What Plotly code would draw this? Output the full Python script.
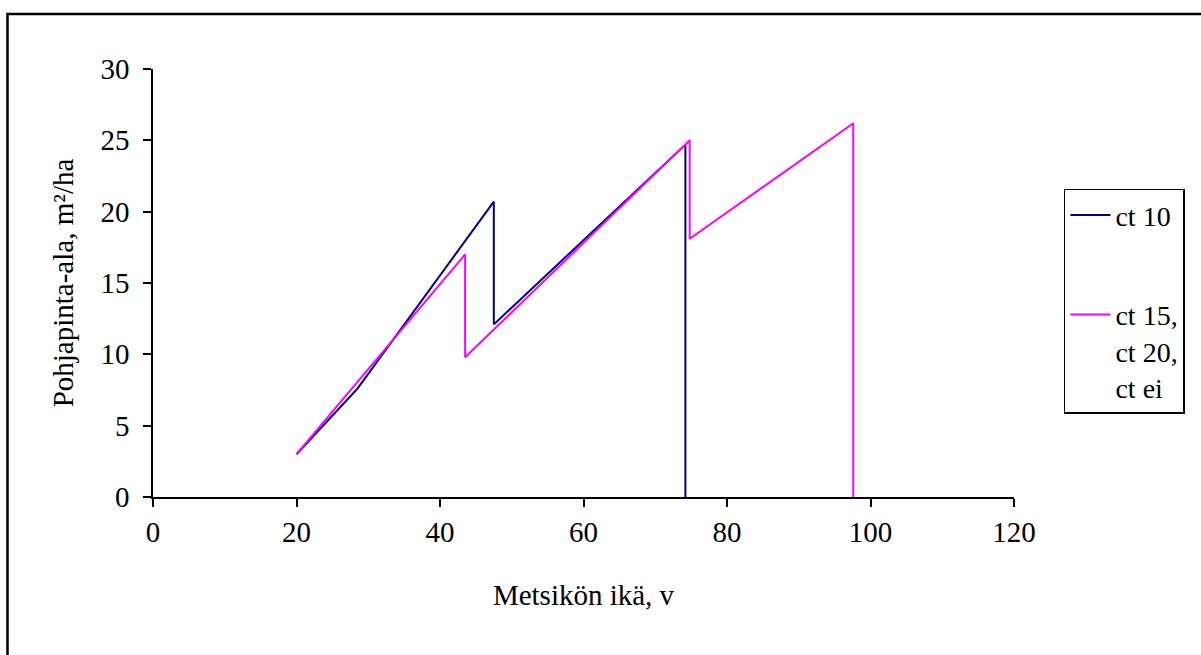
import plotly.graph_objects as go

# Basal area development of the stand over age, two thinning regimes
age_ct10 = [20, 28.5, 47.5, 47.5, 74.2, 74.2]
ba_ct10 = [3.0, 7.6, 20.7, 12.1, 24.7, 0.0]

age_ct15 = [20, 43.5, 43.5, 74.8, 74.8, 97.6, 97.6]
ba_ct15 = [3.0, 17.0, 9.8, 25.0, 18.1, 26.2, 0.0]

x_ticks = [0, 20, 40, 60, 80, 100, 120]
y_ticks = [0, 5, 10, 15, 20, 25, 30]

FONT = "Liberation Serif"
FS = 29

fig = go.Figure()
fig.add_trace(go.Scatter(
    x=age_ct10, y=ba_ct10, mode="lines", name="ct 10",
    line=dict(color="#000080", width=2), legendgroup="a",
))
fig.add_trace(go.Scatter(
    x=age_ct15, y=ba_ct15, mode="lines", name="ct 15,<br>ct 20,<br>ct ei",
    line=dict(color="#FF00FF", width=2), legendgroup="b",
))

axis_common = dict(
    showgrid=False, zeroline=False, showline=True, linecolor="black",
    linewidth=1.5, ticks="outside", ticklen=8, tickwidth=1.5,
    tickcolor="black", tickfont=dict(family=FONT, size=FS, color="black"),
)

fig.update_layout(
    width=1201, height=655,
    margin=dict(l=153, r=187, t=69, b=158),
    paper_bgcolor="white", plot_bgcolor="white",
    font=dict(family=FONT, size=FS, color="black"),
    xaxis=dict(range=[0, 120], tickvals=x_ticks, **axis_common,
               title=dict(text="Metsikön ikä, v", standoff=38,
                          font=dict(family=FONT, size=FS))),
    yaxis=dict(range=[0, 30], tickvals=y_ticks, **axis_common,
               ticklabelstandoff=8,
               title=dict(text="Pohjapinta-ala, m²/ha", standoff=18,
                          font=dict(family=FONT, size=FS))),
    legend=dict(
        x=1.058, y=0.72, xanchor="left", yanchor="top",
        bordercolor="black", borderwidth=1.5, bgcolor="white",
        font=dict(family=FONT, size=28), tracegroupgap=60,
        valign="top", itemwidth=40,
    ),
    shapes=[
        dict(type="rect", xref="paper", yref="paper",
             x0=-0.169, x1=1.3, y0=-0.5, y1=1.1285,
             line=dict(color="black", width=2.5), layer="below"),
    ],
)

fig.write_html("out.html")
